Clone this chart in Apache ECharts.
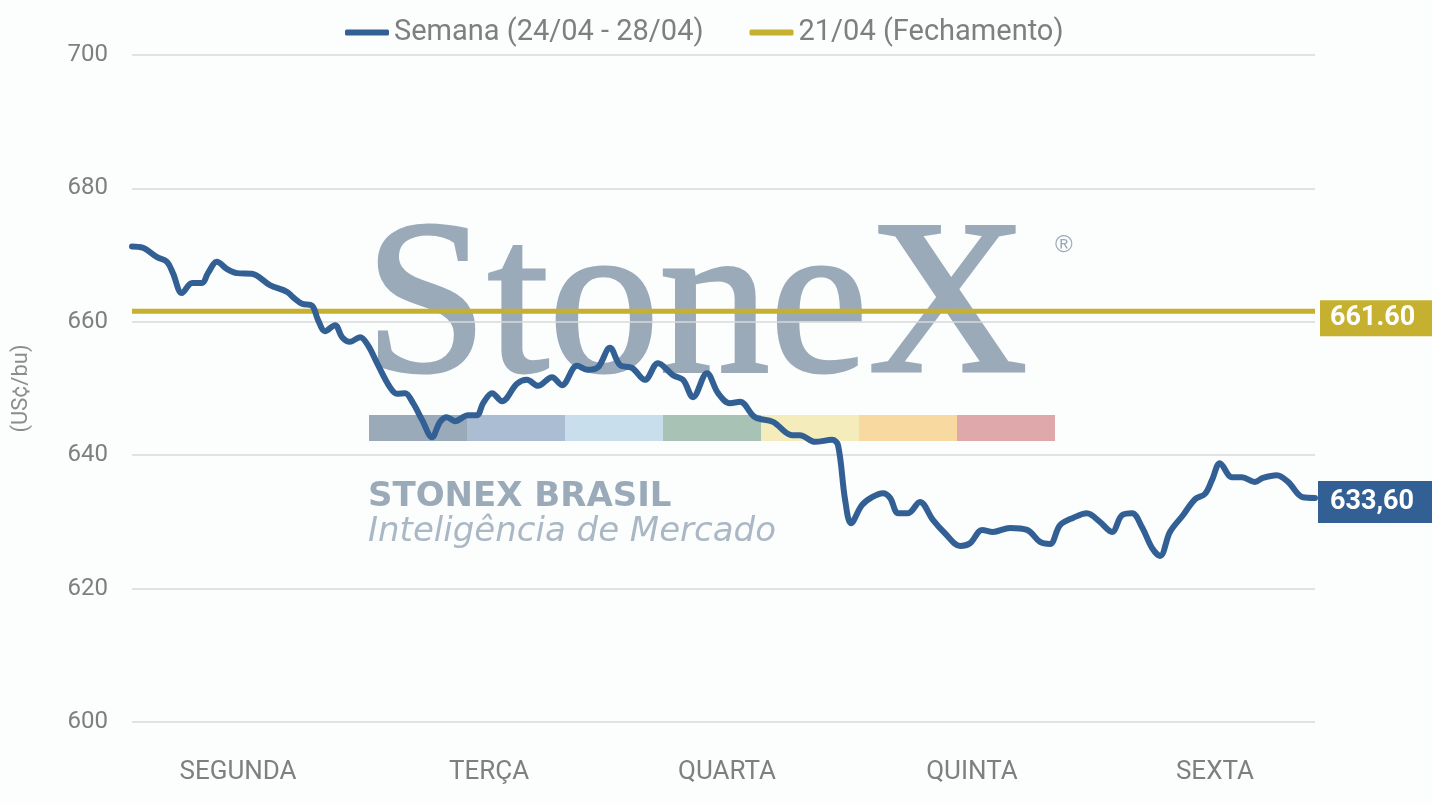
<!DOCTYPE html>
<html>
<head>
<meta charset="utf-8">
<script src="https://cdn.jsdelivr.net/npm/echarts@6/dist/echarts.min.js"></script>
<style>
html,body{margin:0;padding:0;background:#fcfdfd;}
#chart{width:1432px;height:805px;}
</style>
</head>
<body>
<div id="chart"></div>
<script>
// time in trading-day units (0 = Monday open, 5 = Friday close)
var weekTime = [0,0.046,0.106,0.148,0.173,0.211,0.254,0.296,0.321,0.359,0.402,0.444,0.507,0.583,0.655,0.680,0.719,0.761,0.786,0.816,0.858,0.888,0.921,0.964,0.997,1.040,1.090,1.120,1.154,1.188,1.226,1.268,1.302,1.331,1.365,1.420,1.458,1.484,1.522,1.564,1.627,1.669,1.716,1.775,1.817,1.881,1.927,1.970,2.020,2.063,2.113,2.168,2.223,2.287,2.329,2.371,2.430,2.477,2.527,2.570,2.633,2.709,2.790,2.823,2.887,2.959,2.984,3.014,3.039,3.085,3.128,3.174,3.204,3.238,3.280,3.330,3.385,3.436,3.500,3.542,3.593,3.639,3.711,3.783,3.838,3.880,3.922,3.977,4.036,4.091,4.142,4.184,4.227,4.269,4.311,4.345,4.387,4.442,4.493,4.535,4.565,4.598,4.649,4.691,4.746,4.780,4.839,4.886,4.949,5.000];
var weekPrice = [671.3,671.1,669.7,669.0,667.3,664.3,665.8,665.8,667.3,669.0,667.9,667.3,667.2,665.5,664.5,663.7,662.7,662.4,660.3,658.6,659.5,657.7,657.0,657.7,656.5,653.5,650.2,649.2,649.3,647.8,645.3,642.7,645.0,645.7,645.1,646.0,646.0,647.8,649.3,648.1,650.7,651.3,650.4,651.7,650.5,653.4,652.8,653.2,656.1,653.5,653.1,651.3,653.8,652.0,651.3,648.7,652.3,649.3,647.8,648.0,645.7,645.0,643.0,643.0,642.0,642.3,641.5,633.3,629.8,632.5,633.7,634.3,633.6,631.3,631.3,633.0,630.3,628.3,626.4,626.8,628.8,628.5,629.1,628.8,627.0,626.7,629.5,630.6,631.3,630.0,628.5,631.0,631.3,629.2,626.1,624.9,628.5,631.0,633.4,634.2,636.3,638.8,636.7,636.7,636.0,636.6,637.0,636.0,633.7,633.6];
var closeTime = [0, 5];
var closePrice = [661.6, 661.6];
var dayNames = ['SEGUNDA','TERÇA','QUARTA','QUINTA','SEXTA'];
var dayTicks = [0.448, 1.509, 2.515, 3.550, 4.577];
var yTicks = [600, 620, 640, 660, 680, 700];
var seriesNames = ['Semana (24/04 - 28/04)', '21/04 (Fechamento)'];

var weekData = weekTime.map(function(t,i){return [t, weekPrice[i]];});
var closeData = closeTime.map(function(t,i){return [t, closePrice[i]];});

var FONT = 'Roboto';
var chart = echarts.init(document.getElementById('chart'));
var wm = '#9aaab9';
var barColors = ['#9aaab9','#abbdd3','#c8deed','#a8c3b6','#f4edbb','#f8d9a0','#dfa8aa'];
var graphics = [
  {type:'text', z:-10, left:363, top:201, style:{text:'StoneX', fill:wm, stroke:wm, lineWidth:3, font:'normal 221px "Liberation Serif"'}},
  {type:'text', z:-10, left:1055, top:233, style:{text:'®', fill:wm, font:'normal 24px "Liberation Sans"'}},
  {type:'text', z:-10, left:368, top:480, style:{text:'STONEX BRASIL', fill:wm, font:'bold 34px "DejaVu Sans"'}},
  {type:'text', z:-10, left:368, top:515, style:{text:'Inteligência de Mercado', fill:'#aab8c6', font:'oblique 34px "DejaVu Sans"'}}
];
barColors.forEach(function(c,i){
  graphics.push({type:'rect', z:-10, shape:{x:369+i*98, y:415, width:98, height:26}, style:{fill:c}});
});

chart.setOption({
  backgroundColor:'#fcfdfd',
  animation:false,
  textStyle:{fontFamily:FONT},
  graphic:graphics,
  legend:{
    top:13, left:340,
    icon:'roundRect',
    itemWidth:44, itemHeight:6, itemGap:46,
    textStyle:{fontSize:29, color:'#7f7f7f', fontFamily:FONT},
    data:seriesNames
  },
  grid:{left:132, right:117, top:55, bottom:83, containLabel:false},
  xAxis:{
    type:'value', min:0, max:5,
    axisLine:{show:false}, axisTick:{show:false}, splitLine:{show:false},
    axisLabel:{
      customValues:dayTicks,
      margin:37, fontSize:26, color:'#7f7f7f', fontFamily:FONT,
      formatter:function(v){var i=dayTicks.indexOf(v);return i>=0?dayNames[i]:'';}
    }
  },
  yAxis:{
    type:'value', min:yTicks[0], max:yTicks[yTicks.length-1], interval:20,
    name:'(US¢/bu)', nameLocation:'middle', nameGap:100, nameRotate:90,
    nameTextStyle:{fontSize:22, color:'#8c8c8c', fontFamily:FONT},
    axisLine:{show:false}, axisTick:{show:false},
    axisLabel:{fontSize:24, color:'#7f7f7f', margin:24, fontFamily:FONT},
    splitLine:{lineStyle:{color:'#d9d9d9', width:1.5}}
  },
  series:[
    {
      name:seriesNames[0], type:'line', data:weekData, smooth:0.35, symbol:'none', z:4,
      lineStyle:{color:'#336094', width:6, cap:'round'},
      itemStyle:{color:'#336094'},
      endLabel:{
        show:true, distance:3, offset:[0,4],
        formatter:function(p){return p.value[1].toFixed(2).replace('.',',');},
        backgroundColor:'#336094', color:'#fff', fontWeight:'bold', fontSize:27,
        padding:[8,18,7,12], fontFamily:FONT
      }
    },
    {
      name:seriesNames[1], type:'line', data:closeData, symbol:'none', z:3,
      lineStyle:{color:'#c5b12f', width:5},
      itemStyle:{color:'#c5b12f'},
      endLabel:{
        show:true, distance:5, offset:[0,7],
        formatter:function(p){return p.value[1].toFixed(2);},
        backgroundColor:'#c5b12f', color:'#fff', fontWeight:'bold', fontSize:27,
        padding:[5,18,4,10], fontFamily:FONT
      }
    }
  ]
});
</script>
</body>
</html>
